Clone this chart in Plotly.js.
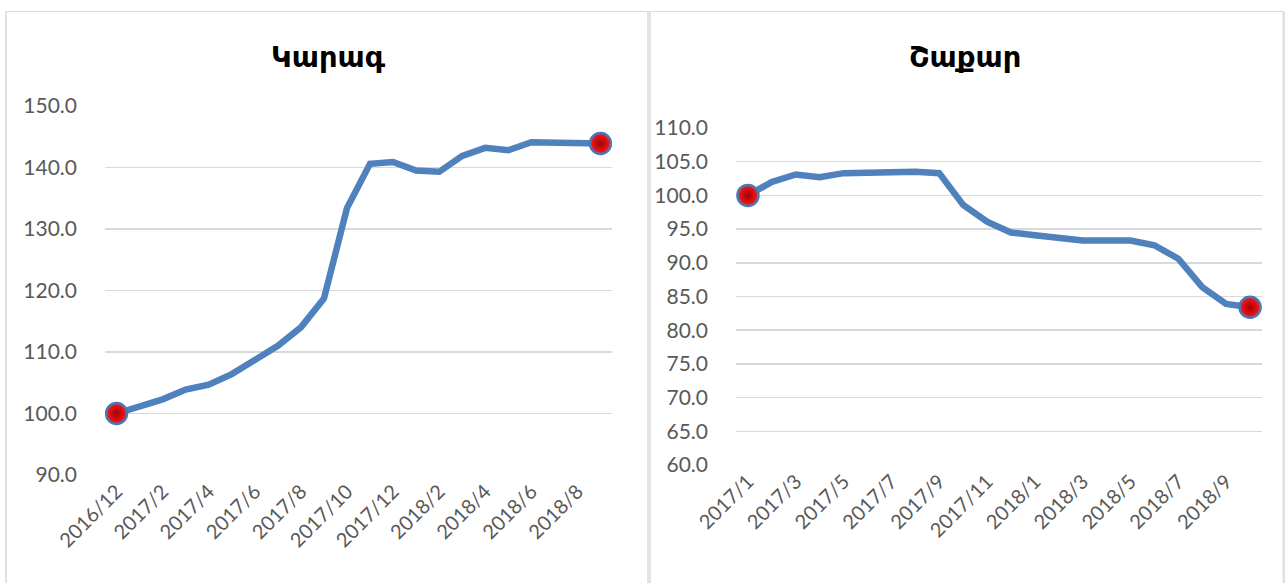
<!DOCTYPE html>
<html>
<head>
<meta charset="utf-8">
<script src="https://cdn.plot.ly/plotly-3.0.1.min.js"></script>
<style>html,body{margin:0;padding:0;background:#fff;}#chart{width:1285px;height:583px;}</style>
</head>
<body>
<div id="chart"></div>
<script>
// Left chart: Կարագ (butter)
const butterMonths = ["2016/12","2017/1","2017/2","2017/3","2017/4","2017/5","2017/6","2017/7","2017/8","2017/9","2017/10","2017/11","2017/12","2018/1","2018/2","2018/3","2018/4","2018/5","2018/6","2018/7","2018/8","2018/9"];
const butterValues = [100.0,101.2,102.3,103.9,104.7,106.4,108.7,111.0,114.0,118.7,133.4,140.6,140.9,139.5,139.3,141.9,143.2,142.8,144.1,144.0,143.8,143.9];
const butterTitle = "Կարագ";
const butterTicks = ["90.0","100.0","110.0","120.0","130.0","140.0","150.0"];
const butterTickVals = [90,100,110,120,130,140,150];

// Right chart: Շաքար (sugar)
const sugarMonths = ["2017/1","2017/2","2017/3","2017/4","2017/5","2017/6","2017/7","2017/8","2017/9","2017/10","2017/11","2017/12","2018/1","2018/2","2018/3","2018/4","2018/5","2018/6","2018/7","2018/8","2018/9","2018/10"];
const sugarValues = [100.0,102.0,103.1,102.7,103.3,103.4,103.5,103.5,103.3,98.6,96.1,94.5,94.1,93.6,93.3,93.3,93.3,92.6,90.6,86.4,83.9,83.4];
const sugarTitle = "Շաքար";
const sugarTicks = ["60.0","65.0","70.0","75.0","80.0","85.0","90.0","95.0","100.0","105.0","110.0"];
const sugarTickVals = [60,65,70,75,80,85,90,95,100,105,110];

const W = 1285, H = 583;
const px = v => v / W;
const py = v => 1 - v / H;

const lineColor = "#4f81bd";
const tickFont = {family: "Lato, 'Open Sans', sans-serif", size: 21, color: "#595959"};

function endpoints(xs, ys) {
  const n = xs.length;
  return {x: [xs[0], xs[n-1]], y: [ys[0], ys[n-1]]};
}
const bE = endpoints(butterMonths, butterValues);
const sE = endpoints(sugarMonths, sugarValues);
const markerStyle = {
  size: 21, color: "#ff1a1a",
  gradient: {type: "radial", color: "#a00000"},
  line: {color: "#4a78b5", width: 2.5}
};

const data = [
  {x: butterMonths, y: butterValues, type: "scatter", mode: "lines",
   line: {color: lineColor, width: 6.5}, xaxis: "x", yaxis: "y", hoverinfo: "skip"},
  {x: bE.x, y: bE.y, type: "scatter", mode: "markers", marker: markerStyle,
   xaxis: "x", yaxis: "y", hoverinfo: "skip"},
  {x: sugarMonths, y: sugarValues, type: "scatter", mode: "lines",
   line: {color: lineColor, width: 6.5}, xaxis: "x2", yaxis: "y2", hoverinfo: "skip"},
  {x: sE.x, y: sE.y, type: "scatter", mode: "markers", marker: markerStyle,
   xaxis: "x2", yaxis: "y2", hoverinfo: "skip"}
];

const xCommon = {
  type: "category", tickmode: "linear", tick0: 0, dtick: 2, tickangle: -45,
  showgrid: false, zeroline: false, showline: false, ticks: "",
  tickfont: {family: "Lato, 'Open Sans', sans-serif", size: 20, color: "#595959"},
  fixedrange: true
};
const yCommon = {
  showgrid: true, gridcolor: "#d9d9d9", gridwidth: 1.5, zeroline: false,
  showline: false, ticks: "", tickfont: tickFont, ticklabelstandoff: 27,
  fixedrange: true
};

const layout = {
  width: W, height: H,
  margin: {l: 0, r: 0, t: 0, b: 0},
  paper_bgcolor: "#ffffff", plot_bgcolor: "#ffffff",
  showlegend: false,
  xaxis: Object.assign({}, xCommon, {domain: [px(105), px(612)], anchor: "y", range: [-0.5, butterMonths.length - 0.5]}),
  yaxis: Object.assign({}, yCommon, {domain: [py(475), py(106)], anchor: "x", range: [90, 150],
    tickmode: "array", tickvals: butterTickVals, ticktext: butterTicks}),
  xaxis2: Object.assign({}, xCommon, {domain: [px(736), px(1262)], anchor: "y2", range: [-0.5, sugarMonths.length - 0.5]}),
  yaxis2: Object.assign({}, yCommon, {domain: [py(465), py(128)], anchor: "x2", range: [60, 110],
    tickmode: "array", tickvals: sugarTickVals, ticktext: sugarTicks}),
  annotations: [
    {text: "<b>" + butterTitle + "</b>", xref: "paper", yref: "paper", x: px(328), y: py(57),
     showarrow: false, xanchor: "center", yanchor: "middle",
     font: {family: "'DejaVu Sans', 'Noto Sans', sans-serif", size: 29, color: "#000000"}},
    {text: "<b>" + sugarTitle + "</b>", xref: "paper", yref: "paper", x: px(965), y: py(57),
     showarrow: false, xanchor: "center", yanchor: "middle",
     font: {family: "'DejaVu Sans', 'Noto Sans', sans-serif", size: 29, color: "#000000"}}
  ],
  shapes: [
    {type: "line", xref: "paper", yref: "paper", x0: px(5), x1: px(1284), y0: py(11.5), y1: py(11.5),
     line: {color: "#d9d9d9", width: 1}},
    {type: "rect", xref: "paper", yref: "paper", x0: px(5), x1: px(7), y0: 0, y1: py(11),
     fillcolor: "#e0e0e0", line: {width: 0}},
    {type: "rect", xref: "paper", yref: "paper", x0: px(647), x1: px(651), y0: 0, y1: py(11),
     fillcolor: "#e3e3e3", line: {width: 0}},
    {type: "rect", xref: "paper", yref: "paper", x0: px(1282.5), x1: 1, y0: 0, y1: py(11),
     fillcolor: "#e0e0e0", line: {width: 0}}
  ]
};

Plotly.newPlot("chart", data, layout, {displayModeBar: false, staticPlot: true});
</script>
</body>
</html>
